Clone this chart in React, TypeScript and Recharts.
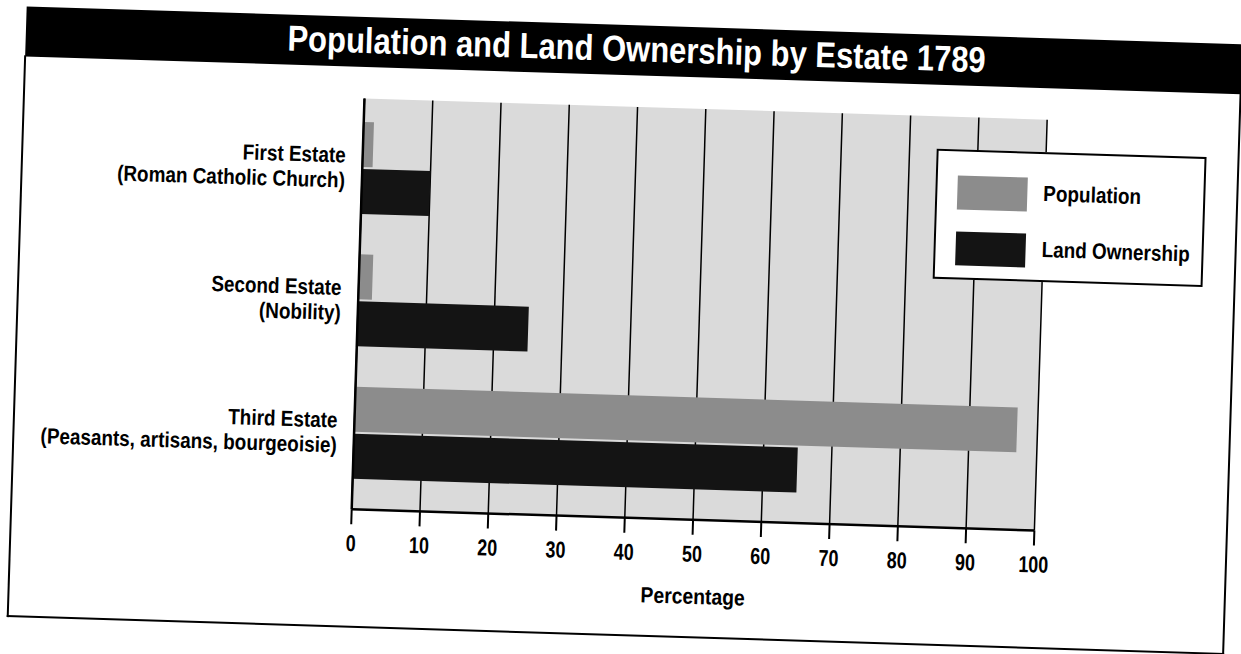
import {
  BarChart,
  Bar,
  XAxis,
  YAxis,
  CartesianGrid,
  Legend,
  Label,
} from "recharts";

const categories = ["First Estate", "Second Estate", "Third Estate"];
const subtitles = [
  "(Roman Catholic Church)",
  "(Nobility)",
  "(Peasants, artisans, bourgeoisie)",
];
const population = [1.5, 2, 97];
const landOwnership = [10, 25, 65];
const xTicks = [0, 10, 20, 30, 40, 50, 60, 70, 80, 90, 100];

const data = categories.map((name, i) => ({
  name,
  sub: subtitles[i],
  population: population[i],
  land: landOwnership[i],
}));

// no narrow font installed, so squeeze Liberation Sans bold horizontally
const FONT = "'Liberation Sans', Arial, sans-serif";

const CatTick = (props: any) => {
  const { x, y, payload, index } = props;
  return (
    <g transform={`translate(${x - 15},${y}) scale(0.86,1)`}>
      <text textAnchor="end" fontFamily={FONT} fontWeight="bold" fontSize={22} fill="#000">
        <tspan x={0} dy={-5}>{payload.value}</tspan>
        <tspan x={0} dy={25}>{subtitles[index]}</tspan>
      </text>
    </g>
  );
};

const NumTick = (props: any) => {
  const { x, y, payload } = props;
  return (
    <g transform={`translate(${x},${y}) scale(0.78,1)`}>
      <text textAnchor="middle" dy={19} fontFamily={FONT} fontWeight="bold" fontSize={23} fill="#000">
        {payload.value}
      </text>
    </g>
  );
};

const AxisTitle = (props: any) => {
  const vb = props.viewBox;
  const cx = vb.x + vb.width / 2 + 2;
  const cy = vb.y + vb.height + 24;
  return (
    <g transform={`translate(${cx},${cy}) scale(0.88,1)`}>
      <text textAnchor="middle" fontFamily={FONT} fontWeight="bold" fontSize={22} fill="#000">
        Percentage
      </text>
    </g>
  );
};

const squeezed = {
  display: "inline-block",
  transform: "scaleX(0.86)",
  transformOrigin: "left center",
  whiteSpace: "nowrap" as const,
};

const LegendBox = () => (
  <div
    style={{
      width: 266,
      height: 126,
      background: "#fff",
      border: "2.5px solid #000",
      fontFamily: FONT,
      fontWeight: "bold",
      fontSize: 22,
      position: "relative",
    }}
  >
    <div style={{ position: "absolute", left: 20, top: 24, width: 70, height: 34, background: "#8c8c8c" }} />
    <div style={{ position: "absolute", left: 106, top: 27 }}>
      <span style={squeezed}>Population</span>
    </div>
    <div style={{ position: "absolute", left: 20, top: 80, width: 70, height: 34, background: "#141414" }} />
    <div style={{ position: "absolute", left: 106, top: 83 }}>
      <span style={squeezed}>Land Ownership</span>
    </div>
  </div>
);

export default function App() {
  return (
    <div
      style={{
        position: "absolute",
        left: 0,
        top: 0,
        width: 1241,
        height: 654,
        overflow: "hidden",
        background: "#fff",
      }}
    >
      <div
        style={{
          position: "absolute",
          left: 0,
          top: 0,
          width: 1241,
          height: 654,
          transform: "rotate(1.78deg)",
          transformOrigin: "620.5px 327px",
        }}
      >
        {/* title band */}
        <div
          style={{
            position: "absolute",
            left: 17,
            top: 25,
            width: 1260,
            height: 50,
            background: "#000",
            color: "#fff",
          }}
        >
          <div
            style={{
              position: "absolute",
              left: 0,
              width: 1222,
              top: 3,
              textAlign: "center",
              fontFamily: FONT,
              fontWeight: "bold",
              fontSize: 36,
              whiteSpace: "nowrap",
              transform: "scaleX(0.86)",
              transformOrigin: "611px 50%",
            }}
          >
            Population and Land Ownership by Estate 1789
          </div>
        </div>
        {/* outer frame */}
        <div
          style={{
            position: "absolute",
            left: 16,
            top: 74,
            width: 1214,
            height: 560,
            borderLeft: "2.5px solid #000",
            borderRight: "2.5px solid #000",
            borderBottom: "2.5px solid #000",
          }}
        />
        <div style={{ position: "absolute", left: 0, top: 0 }}>
          <BarChart
            width={1241}
            height={654}
            data={data}
            layout="vertical"
            margin={{ top: 106.5, right: 200.5, bottom: 76.5, left: 17.5 }}
            barGap={2}
          >
            <CartesianGrid
              horizontal={false}
              stroke="#000"
              strokeWidth={1.5}
              fill="#dadada"
              fillOpacity={1}
            />
            <XAxis
              type="number"
              domain={[0, 100]}
              ticks={xTicks}
              interval={0}
              tickSize={15}
              tickMargin={8}
              height={60}
              axisLine={{ stroke: "#000", strokeWidth: 2.5 }}
              tickLine={{ stroke: "#000", strokeWidth: 2 }}
              tick={<NumTick />}
            >
              <Label content={<AxisTitle />} />
            </XAxis>
            <XAxis
              xAxisId="top"
              orientation="top"
              type="number"
              domain={[0, 100]}
              height={0}
              tick={false}
              tickLine={false}
              axisLine={{ stroke: "#000", strokeWidth: 2.5 }}
            />
            <YAxis
              type="category"
              dataKey="name"
              width={340}
              padding={{ top: 3.5, bottom: 10 }}
              tickLine={false}
              tickSize={0}
              axisLine={{ stroke: "#000", strokeWidth: 2.5 }}
              tick={<CatTick />}
            />
            <YAxis
              yAxisId="right"
              orientation="right"
              type="category"
              dataKey="name"
              width={0}
              tick={false}
              tickLine={false}
              axisLine={{ stroke: "#000", strokeWidth: 2.5 }}
            />
            <Legend
              layout="vertical"
              align="center"
              verticalAlign="middle"
              content={<LegendBox />}
              wrapperStyle={{ left: 931, top: 139, width: 270, height: 130 }}
            />
            <Bar
              dataKey="population"
              name="Population"
              fill="#8c8c8c"
              barSize={45}
              isAnimationActive={false}
            />
            <Bar
              dataKey="land"
              name="Land Ownership"
              fill="#141414"
              barSize={45}
              isAnimationActive={false}
            />
          </BarChart>
        </div>
      </div>
    </div>
  );
}
